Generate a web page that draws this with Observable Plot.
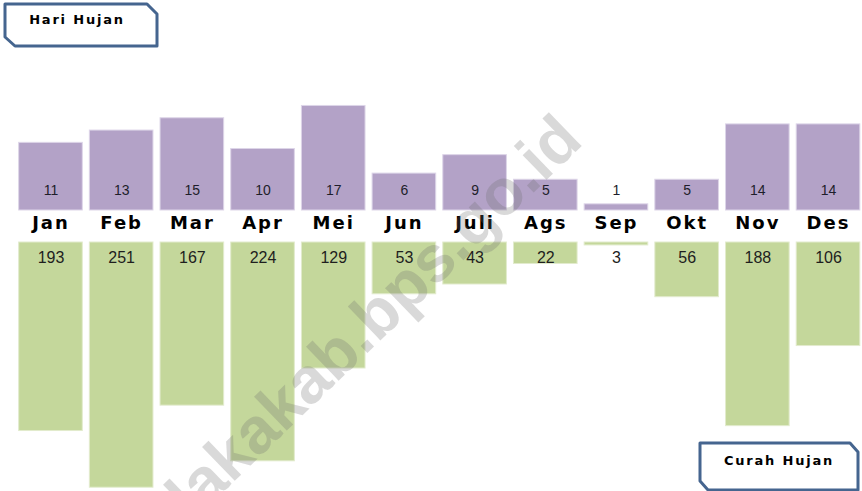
<!DOCTYPE html>
<html>
<head>
<meta charset="utf-8">
<script src="https://cdn.jsdelivr.net/npm/d3@7"></script>
<script src="https://cdn.jsdelivr.net/npm/@observablehq/plot@0.6"></script>
<style>
  html, body { margin: 0; padding: 0; background: #fff; }
  #chart { position: relative; width: 862px; height: 491px; overflow: hidden; background: #fff; }
  #chart > svg, #chart > .layer { position: absolute; left: 0; top: 0; }
  .overlay { pointer-events: none; }
</style>
</head>
<body>
<div id="chart"></div>
<script>
// ---- data ----
const months = ["Jan","Feb","Mar","Apr","Mei","Jun","Juli","Ags","Sep","Okt","Nov","Des"];
const hariHujan = [11, 13, 15, 10, 17, 6, 9, 5, 1, 5, 14, 14];
const curahHujan = [193, 251, 167, 224, 129, 53, 43, 22, 3, 56, 188, 106];
const titleTop = "Hari Hujan";
const titleBottom = "Curah Hujan";
const watermark = "malakakab.bps.go.id";

(function () {
const data = months.map((m, i) => ({month: m, hari: hariHujan[i], curah: curahHujan[i]}));

const W = 862, H = 491;
const xScale = {domain: months, range: [11.6, 866.9], padding: 0.1, round: false, axis: null};
const purple = "#b3a2c7";
const green = "#c4d79b";

const chart = document.getElementById("chart");

// Top: Hari Hujan (rain days), bars grow upward
const topPlot = Plot.plot({
  width: W, height: H, margin: 0,
  style: {background: "transparent", overflow: "visible"},
  x: xScale,
  y: {domain: [0, 17], range: [210, 105.45], axis: null},
  marks: [
    Plot.barY(data, {x: "month", y: "hari", fill: purple, stroke: "#ddd5e8", strokeWidth: 1}),
    Plot.text(data, {x: "month", text: d => String(d.hari), frameAnchor: "top", lineAnchor: "middle", dy: 190,
      fontSize: 14, fontFamily: "Liberation Sans, Arial, sans-serif", fill: "#1e1e2a"}),
    Plot.text(data, {x: "month", text: "month", frameAnchor: "top", lineAnchor: "middle", dy: 223,
      fontSize: 18, fontWeight: "bold", fontFamily: "DejaVu Sans, sans-serif", fill: "#000"})
  ]
});
d3.select(topPlot).selectAll("g[aria-label=text]").filter((d, i) => i === 1)
  .attr("letter-spacing", "2px");
chart.appendChild(topPlot);

// Bottom: Curah Hujan (rainfall), bars grow downward
const bottomPlot = Plot.plot({
  width: W, height: H, margin: 0,
  style: {background: "transparent", overflow: "visible"},
  x: xScale,
  y: {domain: [0, 251], range: [242, 487.2], axis: null},
  marks: [
    Plot.barY(data, {x: "month", y: "curah", fill: green, stroke: "#e2ebcd", strokeWidth: 1}),
    Plot.text(data, {x: "month", text: d => String(d.curah), frameAnchor: "top", lineAnchor: "middle", dy: 257,
      fontSize: 16, fontFamily: "Liberation Sans, Arial, sans-serif", fill: "#1e1e1e"})
  ]
});
chart.appendChild(bottomPlot);

// Overlay: label boxes and watermark
const ov = d3.select(chart).append("svg")
  .attr("class", "layer overlay")
  .attr("width", W).attr("height", H);

// watermark
ov.append("text")
  .attr("transform", "translate(125,587) rotate(-44)")
  .attr("font-family", "Liberation Sans, Arial, sans-serif")
  .attr("font-weight", "bold")
  .attr("font-size", 65)
  .attr("fill", "rgba(110,110,110,0.26)")
  .text(watermark);

function box(points, label, tx, ty) {
  ov.append("polygon")
    .attr("points", points.map(p => p.join(",")).join(" "))
    .attr("fill", "#fff")
    .attr("stroke", "#45658f")
    .attr("stroke-width", 3)
    .attr("stroke-linejoin", "round");
  ov.append("text")
    .attr("x", tx).attr("y", ty)
    .attr("text-anchor", "middle")
    .attr("dominant-baseline", "central")
    .attr("font-family", "DejaVu Sans, sans-serif")
    .attr("font-weight", "bold")
    .attr("font-size", 13)
    .attr("letter-spacing", "1.8px")
    .attr("fill", "#000")
    .text(label);
}
box([[5,4],[147,4],[157,14],[157,46],[15,46],[5,37]], titleTop, 77, 19);
box([[700,443],[850,443],[858,452],[858,490],[708,490],[700,481]], titleBottom, 779, 460);
})();
</script>
</body>
</html>
